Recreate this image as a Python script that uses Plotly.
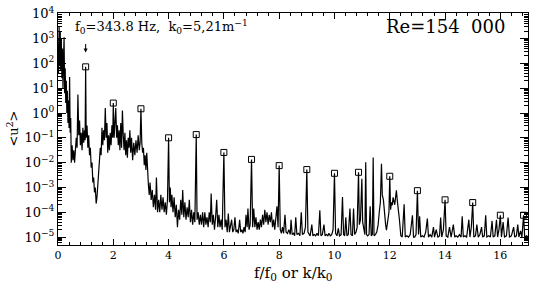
import plotly.graph_objects as go

# Spectrum: x = f/f0, exponent of <u^2> (log10 of value, read on the log axis)
freq = [0.00,0.02,0.04,0.06,0.08,0.10,0.12,0.14,0.16,0.18,0.20,0.22,0.24,0.26,0.28,0.30,0.32,0.34,0.36,0.38,0.40,0.42,0.44,0.46,0.48,0.51,0.54,0.57,0.60,0.63,0.66,0.69,0.72,0.75,0.78,0.81,0.84,0.87,0.90,0.93,0.96,0.98,
        1.00,1.02,1.05,1.08,1.11,1.14,1.17,1.20,1.23,1.26,1.29,1.32,1.35,1.38,1.41,1.44,1.47,1.50,1.53,1.56,1.59,1.62,1.65,1.68,1.71,1.74,1.77,1.80,1.83,1.86,1.89,1.92,1.95,1.98,
        2.00,2.03,2.06,2.09,2.12,2.15,2.18,2.21,2.24,2.27,2.30,2.33,2.36,2.39,2.42,2.45,2.48,2.51,2.54,2.57,2.60,2.63,2.66,2.70,2.74,2.78,2.82,2.86,2.90,2.94,2.97,
        3.00,3.03,3.06,3.09,3.12,3.15,3.18,3.21,3.24,3.27,3.30,3.33,3.37,3.41,3.45,3.49,3.53,3.56,3.60,3.64,3.68,3.72,3.76,3.80,3.84,3.88,3.92,3.96,
        4.00,4.03,4.06,4.09,4.12,4.16,4.20,4.24,4.28,4.32,4.36,4.40,4.44,4.48,4.51,4.55,4.59,4.63,4.67,4.71,4.75,4.79,4.83,4.87,4.91,4.95,
        5.00,5.03,5.07,5.11,5.15,5.19,5.23,5.27,5.31,5.35,5.39,5.43,5.47,5.51,5.54,5.58,5.62,5.66,5.70,5.74,5.78,5.82,5.86,5.90,5.94,
        6.00,6.04,6.08,6.12,6.16,6.20,6.24,6.28,6.32,6.36,6.40,6.44,6.48,6.52,6.57,6.61,6.65,6.69,6.73,6.77,6.80,6.84,6.87,6.91,6.95,
        7.00,7.04,7.08,7.12,7.16,7.20,7.24,7.28,7.32,7.36,7.40,7.44,7.48,7.52,7.56,7.60,7.64,7.68,7.72,7.76,7.80,7.84,7.88,7.92,7.96,
        8.00,8.04,8.08,8.12,8.16,8.21,8.25,8.30,8.35,8.40,8.43,8.47,8.52,8.56,8.60,8.64,8.70,8.75,8.80,8.84,8.90,8.95,
        9.00,9.04,9.08,9.12,9.18,9.22,9.27,9.32,9.37,9.42,9.47,9.51,9.56,9.62,9.66,9.71,9.76,9.80,9.85,9.90,9.95,
        10.00,10.04,10.09,10.14,10.18,10.24,10.29,10.33,10.37,10.41,10.45,10.50,10.56,10.60,10.65,10.69,10.73,10.78,10.82,10.87,10.90,10.94,10.99,
        11.02,11.06,11.10,11.13,11.16,11.20,11.25,11.29,11.33,11.37,11.40,11.43,11.48,11.53,11.58,11.62,11.66,11.70,11.73,11.77,11.81,11.85,11.88,11.93,11.97,
        12.00,12.03,12.06,12.09,12.12,12.15,12.18,12.21,12.24,12.27,12.31,12.35,12.40,12.45,12.52,12.56,12.62,12.68,12.74,12.82,12.86,12.90,12.95,
        13.00,13.04,13.08,13.12,13.18,13.24,13.30,13.36,13.40,13.46,13.52,13.58,13.62,13.68,13.74,13.80,13.84,13.88,13.94,
        14.00,14.04,14.10,14.16,14.22,14.30,14.35,14.40,14.46,14.52,14.58,14.62,14.66,14.72,14.78,14.86,14.90,14.95,
        15.00,15.04,15.10,15.15,15.20,15.26,15.32,15.36,15.42,15.47,15.51,15.58,15.64,15.70,15.74,15.80,15.86,15.90,15.95,
        16.00,16.04,16.10,16.15,16.22,16.28,16.33,16.40,16.48,16.52,16.58,16.63,16.67,16.73,16.78,16.84,16.88,16.95,17.00]

log10_u2 = [2.8,1.6,3.5,2.0,3.3,1.7,2.9,1.4,2.6,1.0,2.2,3.05,0.8,1.8,0.4,1.3,0.0,0.9,-0.4,0.5,-0.6,1.45,-0.8,-0.2,-2.0,-1.3,-1.9,-1.5,-2.0,-1.6,-1.0,-1.4,0.75,-0.9,-0.3,-1.3,-0.8,-1.5,-0.6,-1.2,-0.7,-1.1,
            1.86,-1.0,-0.5,-1.4,-0.9,-1.7,-1.4,-2.2,-2.0,-2.8,-2.6,-3.2,-3.0,-3.65,-3.4,-2.9,-2.3,-1.9,-1.4,-1.7,-0.6,-1.3,-0.7,-1.1,0.2,-1.0,-0.4,-1.6,-0.9,-1.5,-0.8,-1.3,-0.5,-1.0,
            0.4,-1.0,-0.3,0.2,-1.0,-0.5,-1.3,-0.7,-1.5,-0.4,-1.4,0.1,-0.9,-1.5,-0.8,-1.7,-1.1,-1.8,-1.0,-1.4,-0.7,-1.6,-1.0,-1.9,-1.2,-1.7,-1.1,-1.6,-0.9,-1.5,-1.2,
            0.17,-1.2,-1.6,-1.4,-2.1,-1.7,-2.3,-1.6,-2.6,-2.9,-3.3,-2.8,-3.5,-3.1,-3.8,-3.3,-3.9,-2.6,-4.0,-3.5,-4.0,-3.3,-3.9,-3.4,-4.0,-3.6,-4.1,-3.5,
            -1.0,-3.6,-3.0,-3.8,-3.3,-4.0,-3.4,-4.2,-3.7,-4.6,-3.9,-4.3,-3.5,-4.1,-3.1,-4.2,-3.6,-4.3,-3.8,-4.2,-3.5,-4.4,-3.9,-4.5,-4.0,-4.4,
            -0.87,-4.3,-4.0,-4.5,-4.1,-4.5,-4.0,-4.6,-4.0,-4.5,-4.2,-4.6,-4.0,-4.4,-3.25,-4.5,-4.1,-4.7,-4.2,-3.5,-4.6,-4.1,-4.6,-4.3,-4.7,
            -1.59,-4.6,-4.3,-4.8,-4.05,-4.8,-4.6,-4.3,-4.8,-4.7,-4.2,-4.8,-4.7,-4.85,-4.3,-4.8,-4.7,-4.85,-4.6,-4.8,-4.1,-4.6,-3.85,-4.7,-4.5,
            -1.87,-4.6,-3.85,-4.6,-4.2,-4.7,-4.4,-4.7,-4.3,-4.6,-4.1,-4.5,-3.9,-4.4,-4.0,-4.5,-4.1,-4.4,-4.0,-4.6,-4.3,-4.7,-4.3,-3.76,-4.6,
            -2.12,-4.7,-4.85,-4.6,-4.85,-4.1,-4.8,-4.85,-4.7,-4.9,-4.3,-4.9,-4.85,-4.95,-4.2,-4.9,-4.85,-4.95,-4.0,-4.9,-4.85,-4.6,
            -2.28,-4.8,-4.9,-4.95,-4.5,-4.95,-4.9,-4.95,-4.85,-4.95,-3.92,-4.95,-4.9,-4.5,-4.95,-4.9,-4.95,-4.85,-4.95,-4.9,-4.7,
            -2.43,-4.85,-4.95,-4.65,-4.95,-4.9,-3.39,-4.9,-4.95,-4.2,-4.95,-4.9,-3.85,-4.9,-4.95,-3.85,-4.9,-4.8,-4.6,-2.39,-4.5,-4.3,-2.65,
            -4.4,-4.7,-4.9,-1.99,-4.9,-4.95,-4.9,-3.76,-4.95,-4.9,-1.79,-4.95,-4.9,-4.8,-4.5,-4.0,-3.6,-2.05,-3.3,-3.5,-4.1,-4.5,-4.72,-4.4,-4.0,
            -2.55,-3.9,-3.6,-3.72,-3.4,-3.52,-3.7,-3.4,-3.12,-3.5,-3.8,-4.3,-4.95,-5.0,-3.68,-5.0,-4.95,-5.0,-4.9,-4.12,-5.0,-5.0,-4.9,
            -3.13,-4.9,-4.16,-5.0,-4.95,-5.0,-4.8,-4.25,-5.0,-4.9,-5.0,-4.6,-5.0,-4.7,-5.0,-4.95,-4.21,-5.0,-4.7,
            -3.5,-4.95,-5.0,-4.6,-5.0,-4.5,-5.0,-4.95,-5.0,-4.9,-5.0,-4.16,-5.0,-4.95,-5.0,-4.3,-5.0,-4.6,
            -3.61,-5.0,-4.95,-4.5,-5.0,-4.9,-4.6,-5.0,-4.95,-4.12,-5.0,-4.95,-5.0,-4.35,-5.0,-4.95,-4.3,-5.0,-4.7,
            -4.12,-5.0,-4.4,-5.0,-4.95,-4.21,-5.0,-4.95,-4.6,-5.0,-4.95,-4.5,-5.0,-4.75,-5.0,-4.12,-5.0,-4.95,-5.0]

# Harmonic peaks marked with open squares
peak_x = [1, 2, 3, 4, 5, 6, 7, 8, 9, 10, 10.87, 12, 13, 14, 15, 16, 16.84]
peak_log10 = [1.86, 0.4, 0.17, -1.0, -0.87, -1.59, -1.87, -2.12, -2.28, -2.43, -2.39, -2.55, -3.13, -3.5, -3.61, -4.12, -4.12]

ytick_exp = [4, 3, 2, 1, 0, -1, -2, -3, -4, -5]
xtick_vals = [0, 2, 4, 6, 8, 10, 12, 14, 16]

u2 = [10 ** v for v in log10_u2]
peak_u2 = [10 ** v for v in peak_log10]

FONT = "DejaVu Serif"

fig = go.Figure()
fig.add_trace(go.Scatter(x=freq, y=u2, mode="lines",
                         line=dict(color="black", width=1.2), showlegend=False))
fig.add_trace(go.Scatter(x=peak_x, y=peak_u2, mode="markers",
                         marker=dict(symbol="square-open", size=6, color="black",
                                     line=dict(width=1)), showlegend=False))

minor_y = [m * 10 ** e for e in range(-6, 4) for m in range(2, 10)]

fig.update_xaxes(range=[0, 17], showline=True, linecolor="black", linewidth=1, mirror="allticks",
                 ticks="inside", ticklen=6, tickcolor="black", tickvals=xtick_vals,
                 ticktext=[str(v) for v in xtick_vals],
                 tickfont=dict(family=FONT, size=11, color="black"),
                 minor=dict(dtick=0.4, tick0=0, ticks="inside", ticklen=3, tickcolor="black"),
                 showgrid=False, zeroline=False)
fig.update_yaxes(type="log", range=[-5.32, 4.03], showline=True, linecolor="black", linewidth=1,
                 mirror="allticks", ticks="inside", ticklen=8, tickcolor="black",
                 tickvals=[10 ** e for e in ytick_exp],
                 ticktext=["10<sup>%d</sup>" % e if e >= 0 else "10<sup>\u2212%d</sup>" % (-e) for e in ytick_exp],
                 tickfont=dict(family=FONT, size=13, color="black"),
                 minor=dict(tickmode="array", tickvals=minor_y, ticks="inside", ticklen=4, tickcolor="black"),
                 showgrid=False, zeroline=False)

fig.update_layout(width=534, height=284, margin=dict(l=58, r=5, t=11, b=39),
                  paper_bgcolor="white", plot_bgcolor="white",
                  font=dict(family=FONT, color="black"))

fig.add_annotation(xref="paper", yref="paper", x=-0.118, y=0.5, text="&lt;u<sup>2</sup>&gt;",
                   textangle=-90, showarrow=False, font=dict(family=FONT, size=13, color="black"))
fig.add_annotation(xref="paper", yref="paper", x=0.502, y=-0.122, yanchor="middle",
                   text="f/f<sub>0</sub> or k/k<sub>0</sub>", showarrow=False,
                   font=dict(family=FONT, size=15, color="black"))
fig.add_annotation(xref="x", yref="paper", x=0.55, xanchor="left", y=0.985, yanchor="top",
                   text="f<sub>0</sub>=343.8 Hz,  k<sub>0</sub>=5,21m<sup>\u22121</sup>",
                   showarrow=False, font=dict(family=FONT, size=13, color="black"))
fig.add_annotation(xref="x", yref="paper", x=1.0, y=0.83, text="", showarrow=True,
                   ax=0, ay=-10, arrowhead=2, arrowsize=0.8, arrowwidth=1, arrowcolor="black")
fig.add_annotation(xref="paper", yref="paper", x=0.955, xanchor="right", y=0.94, yanchor="middle",
                   text="Re=154  000", showarrow=False, font=dict(family=FONT, size=18, color="black"))

fig.write_html("out.html")
